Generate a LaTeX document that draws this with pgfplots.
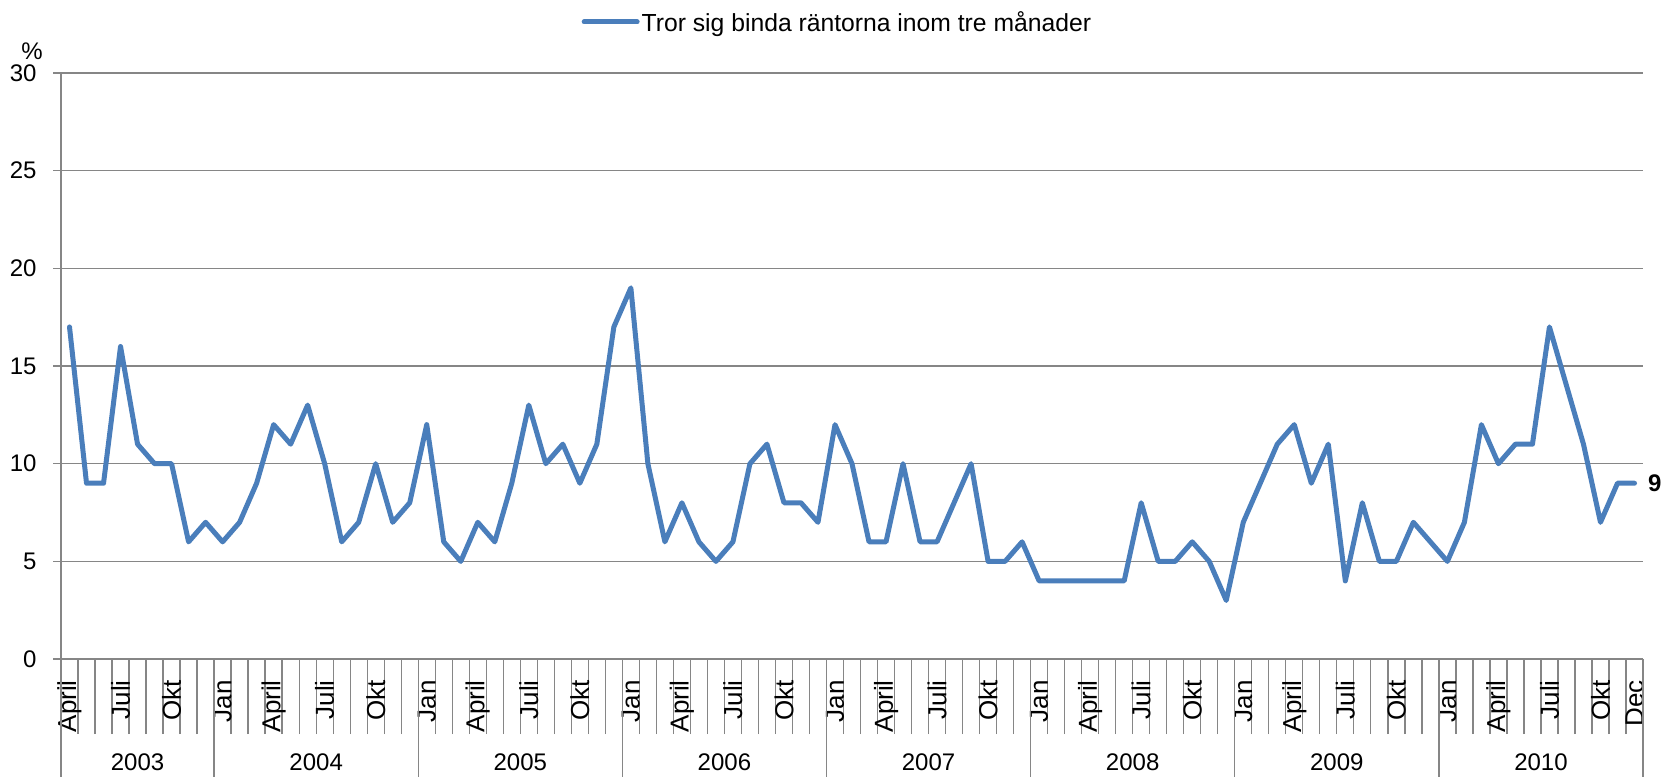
\documentclass[border=0pt]{standalone}
\usepackage{pgfplots}
\pgfplotsset{compat=1.18}
\usepackage{fontspec}
\setmainfont{Liberation Sans}
\definecolor{serie}{RGB}{74,126,187}
\definecolor{gridc}{RGB}{134,134,134}
\newcommand{\ff}{\fontsize{24bp}{28bp}\selectfont}
\newcommand{\fm}{\fontsize{26bp}{30bp}\selectfont}
\newcommand{\fl}{\fontsize{24.7bp}{29bp}\selectfont}
\begin{document}
\begin{tikzpicture}
\begin{axis}[
  name=ax,
  scale only axis,
  width=1582bp, height=586bp,
  xmin=-0.5, xmax=92.5,
  ymin=0, ymax=30,
  axis x line=bottom, axis y line=left,
  axis line style={gridc, line width=1.3bp, -},
  clip=false,
  ytick={0,5,...,30},
  ymajorgrids,
  grid style={gridc, line width=1.3bp},
  tick align=outside,
  major tick length=8bp,
  minor tick length=75bp,
  tick style={gridc, line width=1.3bp},
  minor xtick={-0.5,0.5,...,92.5},
  major x tick style={draw=none},
  xtick={0,3,...,90,92},
  xticklabels={April,Juli,Okt,Jan,April,Juli,Okt,Jan,April,Juli,Okt,Jan,April,Juli,Okt,Jan,April,Juli,Okt,Jan,April,Juli,Okt,Jan,April,Juli,Okt,Jan,April,Juli,Okt,Dec},
  xticklabel style={rotate=90, anchor=east, xshift=-13bp, font=\fm, inner sep=0pt},
  yticklabel style={font=\ff, xshift=-13bp},
  /pgf/number format/assume math mode=true,
  legend style={at={(axis description cs:0.329,1)}, anchor=west, yshift=51bp,
    draw=none, fill=none, font=\fl, inner sep=0pt,
    nodes={inner sep=2bp}},
  legend image code/.code={\draw[#1] (0bp,0bp) -- (53bp,0bp);},
]
\addplot[serie, line width=5bp, line join=round, line cap=round] coordinates {
(0,17)(1,9)(2,9)(3,16)(4,11)(5,10)(6,10)(7,6)(8,7)(9,6)
(10,7)(11,9)(12,12)(13,11)(14,13)(15,10)(16,6)(17,7)(18,10)(19,7)
(20,8)(21,12)(22,6)(23,5)(24,7)(25,6)(26,9)(27,13)(28,10)(29,11)
(30,9)(31,11)(32,17)(33,19)(34,10)(35,6)(36,8)(37,6)(38,5)(39,6)
(40,10)(41,11)(42,8)(43,8)(44,7)(45,12)(46,10)(47,6)(48,6)(49,10)
(50,6)(51,6)(52,8)(53,10)(54,5)(55,5)(56,6)(57,4)(58,4)(59,4)
(60,4)(61,4)(62,4)(63,8)(64,5)(65,5)(66,6)(67,5)(68,3)(69,7)
(70,9)(71,11)(72,12)(73,9)(74,11)(75,4)(76,8)(77,5)(78,5)(79,7)
(80,6)(81,5)(82,7)(83,12)(84,10)(85,11)(86,11)(87,17)(88,14)(89,11)
(90,7)(91,9)(92,9)
};
\addlegendentry{Tror sig binda räntorna inom tre månader}
\addplot[draw=none, forget plot, nodes near coords={\bfseries 9},
  nodes near coords style={anchor=west, font=\ff, xshift=10bp}] coordinates {(92,9)};
\pgfplotsinvokeforeach{-0.5,8.5,20.5,32.5,44.5,56.5,68.5,80.5,92.5}{
  \draw[gridc, line width=1.3bp] (axis cs:#1,0) -- ([yshift=-118bp]axis cs:#1,0);
}
\node[font=\ff] at (axis cs:4,0) [yshift=-103bp] {2003};
\node[font=\ff] at (axis cs:14.5,0) [yshift=-103bp] {2004};
\node[font=\ff] at (axis cs:26.5,0) [yshift=-103bp] {2005};
\node[font=\ff] at (axis cs:38.5,0) [yshift=-103bp] {2006};
\node[font=\ff] at (axis cs:50.5,0) [yshift=-103bp] {2007};
\node[font=\ff] at (axis cs:62.5,0) [yshift=-103bp] {2008};
\node[font=\ff] at (axis cs:74.5,0) [yshift=-103bp] {2009};
\node[font=\ff] at (axis cs:86.5,0) [yshift=-103bp] {2010};
\node[font=\ff] at (rel axis cs:0,1) [xshift=-29bp, yshift=22bp] {\%};
\end{axis}
\pgfresetboundingbox
\path[use as bounding box] ([shift={(-61bp,-118bp)}]ax.south west) rectangle ([shift={(21bp,73bp)}]ax.north east);
\end{tikzpicture}
\end{document}
